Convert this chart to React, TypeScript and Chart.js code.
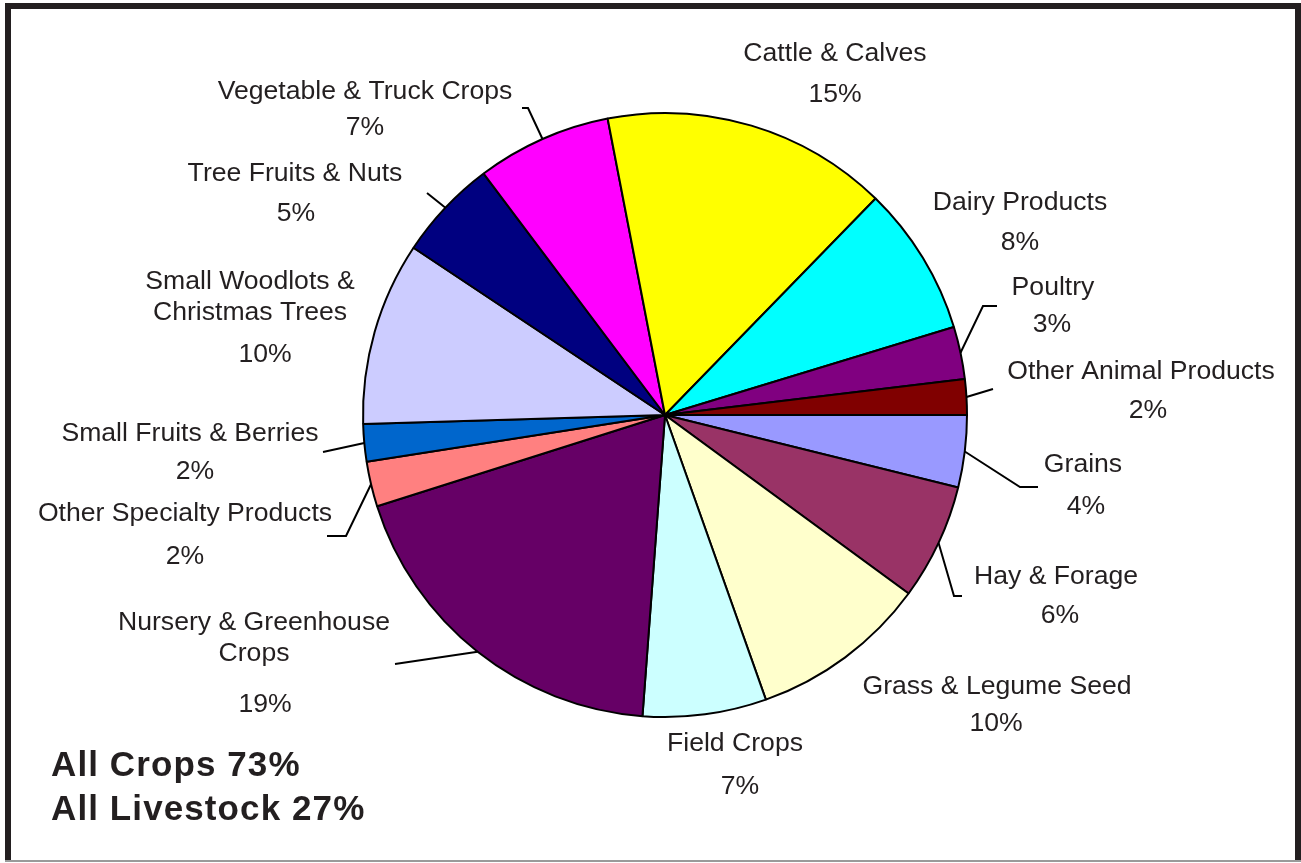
import React, { useEffect, useRef } from "react";
import { Chart, registerables } from "chart.js";

Chart.register(...registerables);

const categories: string[][] = [
  ["Grains"],
  ["Hay & Forage"],
  ["Grass & Legume Seed"],
  ["Field Crops"],
  ["Nursery & Greenhouse", "Crops"],
  ["Other Specialty Products"],
  ["Small Fruits & Berries"],
  ["Small Woodlots &", "Christmas Trees"],
  ["Tree Fruits & Nuts"],
  ["Vegetable & Truck Crops"],
  ["Cattle & Calves"],
  ["Dairy Products"],
  ["Poultry"],
  ["Other Animal Products"],
];

const shares: number[] = [3.85, 6.2, 9.5, 6.6, 18.9, 2.4, 2.0, 9.8, 5.4, 7.2, 15.3, 8.0, 2.8, 1.9];

const pctLabels: string[] = ["4%", "6%", "10%", "7%", "19%", "2%", "2%", "10%", "5%", "7%", "15%", "8%", "3%", "2%"];

const sliceColors: string[] = [
  "#9999ff", "#993366", "#ffffcc", "#ccffff", "#660066", "#ff8080", "#0066cc",
  "#ccccff", "#000080", "#ff00ff", "#ffff00", "#00ffff", "#800080", "#800000",
];

const summaryLines: string[] = ["All Crops 73%", "All Livestock 27%"];

// Layout: label line centers (relative to pie centre): [x, y] for each name line, then pct
const labelLayout: { lines: [number, number][]; pct: [number, number] }[] = [
  { lines: [[418, 48]], pct: [421, 90] },
  { lines: [[391, 160]], pct: [395, 199] },
  { lines: [[332, 270]], pct: [331, 307] },
  { lines: [[70, 327]], pct: [75, 370] },
  { lines: [[-411, 206], [-411, 237]], pct: [-400, 288] },
  { lines: [[-480, 97]], pct: [-480, 140] },
  { lines: [[-475, 17]], pct: [-470, 55] },
  { lines: [[-415, -135], [-415, -104]], pct: [-400, -62] },
  { lines: [[-370, -243]], pct: [-369, -203] },
  { lines: [[-300, -325]], pct: [-300, -289] },
  { lines: [[170, -363]], pct: [170, -322] },
  { lines: [[355, -214]], pct: [355, -174] },
  { lines: [[388, -129]], pct: [387, -92] },
  { lines: [[476, -45]], pct: [483, -6] },
];

// Leader line polylines after the slice edge point (relative to pie centre)
const leaderLayout: ([number, number][] | null)[] = [
  [[355, 72], [373, 72]],
  [[289, 181], [297, 181]],
  null,
  null,
  [[-270, 249]],
  [[-319, 121], [-338, 121]],
  [[-342, 37]],
  null,
  [[-238, -222]],
  [[-137, -307], [-143, -307]],
  null,
  null,
  [[318, -109], [332, -109]],
  [[328, -26]],
];

const INK = "#231f20";

const framePlugin = {
  id: "frame",
  beforeDraw(chart: any) {
    const ctx = chart.ctx;
    ctx.save();
    ctx.fillStyle = "#ffffff";
    ctx.fillRect(0, 0, chart.width, chart.height);
    ctx.fillStyle = INK;
    ctx.fillRect(5, 3, 1296, 6);
    ctx.fillRect(5, 3, 6, 858);
    ctx.fillRect(1295, 3, 6, 858);
    ctx.fillStyle = "#9a9a9a";
    ctx.fillRect(5, 860, 1296, 2);
    ctx.restore();
  },
};

const labelPlugin = {
  id: "sliceLabels",
  afterDatasetsDraw(chart: any) {
    const ctx = chart.ctx;
    const meta = chart.getDatasetMeta(0);
    ctx.save();
    meta.data.forEach((arc: any, i: number) => {
      const { x, y, outerRadius, startAngle, endAngle } = arc.getProps(
        ["x", "y", "outerRadius", "startAngle", "endAngle"],
        true
      );
      const mid = (startAngle + endAngle) / 2;
      const leader = leaderLayout[i];
      if (leader) {
        ctx.strokeStyle = "#000000";
        ctx.lineWidth = 2;
        ctx.beginPath();
        ctx.moveTo(x + Math.cos(mid) * outerRadius, y + Math.sin(mid) * outerRadius);
        leader.forEach(([dx, dy]) => ctx.lineTo(x + dx, y + dy));
        ctx.stroke();
      }
      const lay = labelLayout[i];
      ctx.fillStyle = INK;
      ctx.font = '26.6px "Liberation Sans", Arial, sans-serif';
      ctx.textAlign = "center";
      ctx.textBaseline = "alphabetic";
      categories[i].forEach((line, k) => {
        const [dx, dy] = lay.lines[k];
        ctx.fillText(line, x + dx, y + dy + 9);
      });
      ctx.fillText(pctLabels[i], x + lay.pct[0], y + lay.pct[1] + 9);
    });

    ctx.font = 'bold 35px "Liberation Sans", Arial, sans-serif';
    ctx.textAlign = "left";
    (ctx as any).letterSpacing = "1.1px";
    ctx.fillStyle = INK;
    ctx.fillText(summaryLines[0], 51, 776);
    ctx.fillText(summaryLines[1], 51, 820);
    ctx.restore();
  },
};

export default function App() {
  const canvasRef = useRef<HTMLCanvasElement | null>(null);

  useEffect(() => {
    document.body.style.margin = "0";
    const canvas = canvasRef.current;
    if (!canvas) return;
    const chart = new Chart(canvas, {
      type: "pie",
      data: {
        labels: categories.map((c) => c.join(" ")),
        datasets: [
          {
            data: shares,
            backgroundColor: sliceColors,
            borderColor: "#000000",
            borderWidth: 2,
          },
        ],
      },
      options: {
        responsive: false,
        animation: false,
        devicePixelRatio: 1,
        rotation: 90,
        layout: { padding: { left: 362, right: 333, top: 112, bottom: 145 } },
        plugins: {
          legend: { display: false },
          tooltip: { enabled: false },
          title: { display: false },
        },
      },
      plugins: [framePlugin, labelPlugin],
    });
    return () => chart.destroy();
  }, []);

  return (
    <div style={{ position: "fixed", left: 0, top: 0, width: 1301, height: 863 }}>
      <canvas ref={canvasRef} width={1301} height={863} style={{ display: "block" }} />
    </div>
  );
}
